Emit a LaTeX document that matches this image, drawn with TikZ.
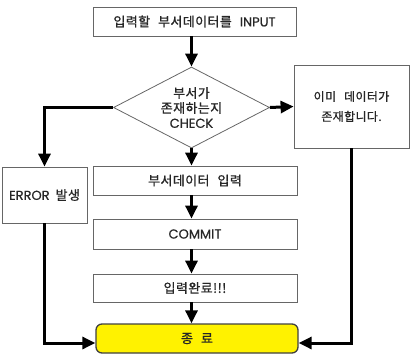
\documentclass[tikz,border=0pt]{standalone}
\usepackage{fontspec}
\setmainfont{Noto Sans CJK KR}[FakeBold=0.9,LetterSpace=3]
\newfontfamily\lat{Poppins}[FakeBold=0.6]
\usetikzlibrary{shapes.geometric,arrows.meta,calc}
\newcommand\gap{\hspace{8pt}}
\begin{document}
\begin{tikzpicture}[x=1pt,y=-1pt,
  box/.style={draw=black!60,line width=0.8pt,inner sep=0pt,align=center,text=black!85,font=\fontsize{13}{15}\selectfont},
  endbox/.style={box,fill=yellow,draw=black!75,line width=1.3pt,rounded corners=6pt},
  arr/.style={line width=3pt,-{Triangle[length=13pt,width=12pt]}},
]
\useasboundingbox (0,0) rectangle (412,356);
\node[box,minimum width=203pt,minimum height=29pt] (top) at (194.5,21.5) {입력할\gap 부서데이터를\gap{\lat INPUT}};
\node[box,diamond,minimum width=156pt,minimum height=81pt,shape aspect=1.93] (chk) at (191.5,107.5) {부서가\\존재하는지\\{\lat CHECK}};
\node[box,minimum width=115pt,minimum height=83pt,font=\fontsize{12}{20}\selectfont] (info) at (351.5,106.5) {이미\gap 데이터가\\존재합니다.};
\node[box,minimum width=85pt,minimum height=56pt] (err) at (44.5,195) {{\lat ERROR}\hspace{6pt}발생};
\node[box,minimum width=204pt,minimum height=29pt] (inp) at (195,180.5) {부서데이터\gap 입력};
\node[box,minimum width=204pt,minimum height=30pt] (com) at (195,234) {{\lat COMMIT}};
\node[box,minimum width=204pt,minimum height=28pt] (done) at (195,288) {입력완료!!!};
\node[endbox,minimum width=202pt,minimum height=29pt] (end) at (197,338.5) {종\gap 료};
\draw[arr] (top.south -| chk.north) -- (chk.north);
\draw[arr] (chk.south) -- (chk.south |- inp.north);
\draw[arr] (inp.south -| chk.south) -- (com.north -| chk.south);
\draw[arr] (com.south -| chk.south) -- (done.north -| chk.south);
\draw[arr] (done.south -| chk.south) -- (end.north -| chk.south);
\draw[arr] (chk.east) -- (info.west);
\draw[arr] (chk.west) -| (err.north);
\draw[arr] (err.south) |- ($(end.west)+(0,4.5)$);
\draw[arr] (info.south) |- ($(end.east)+(0,4.5)$);
\end{tikzpicture}
\end{document}
